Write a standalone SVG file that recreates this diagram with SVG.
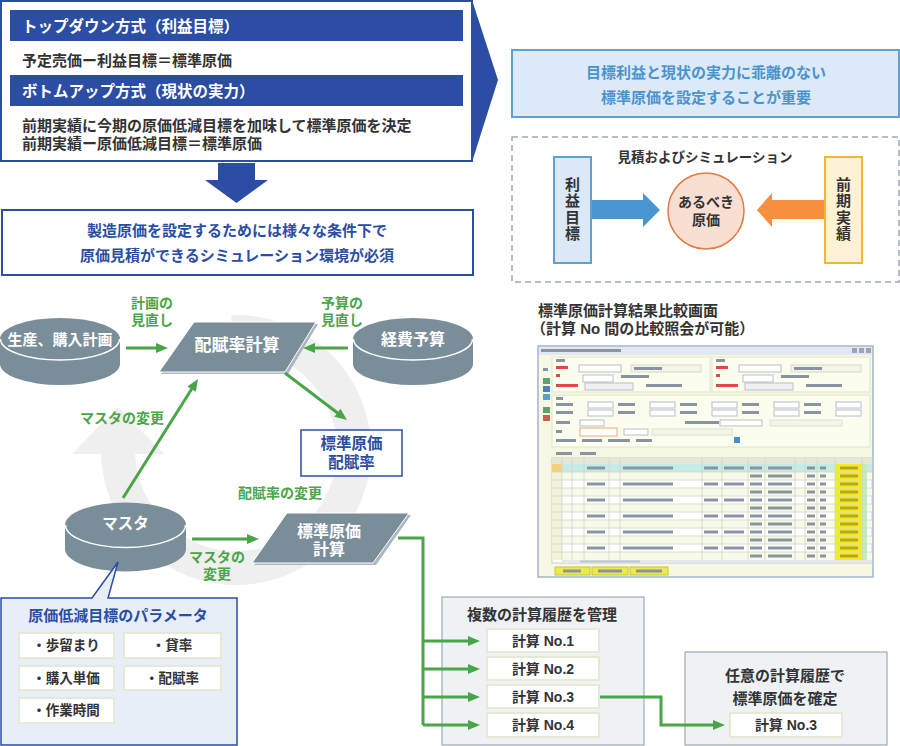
<svg xmlns="http://www.w3.org/2000/svg" width="900" height="746" viewBox="0 0 900 746">
<style>
.t{font-family:"Liberation Sans","Noto Sans CJK JP",sans-serif;font-weight:bold;dominant-baseline:central}
.dk{fill:#333}
.wh{fill:#fff}
.bl{fill:#2b4da3}
.gn{fill:#4aa548}
.mid{text-anchor:middle}
.cyl{fill:#7a8e9a}
.edge{fill:none;stroke:#fff;stroke-width:1.5}
.para{fill:#7a8e9a;stroke:#fff;stroke-width:1}
.parash{fill:#aab7be}
.gl{fill:none;stroke:#4aa548;stroke-width:3}
.ah{fill:#4aa548;stroke:none}
.item{fill:#fff;stroke:#e3ecd3;stroke-width:2}
.sx{fill:#8a93a0}
</style>
<defs>
<filter id="soft" x="-5%" y="-5%" width="110%" height="110%"><feGaussianBlur stdDeviation="0.6"/></filter>
</defs>

<!-- big grey cycle arrow -->
<g id="cycle">
<path d="M231.9,332.1 A118,118 0 1 1 118,452" fill="none" stroke="#efefef" stroke-width="34"/>
<polygon points="72,454 164,454 118,407" fill="#efefef"/>
</g>

<!-- top-left approaches box -->
<g id="approaches">
<rect x="1" y="1" width="471" height="160" fill="#fff" stroke="#2b4da3" stroke-width="2"/>
<polygon points="472,0 498,80 472,162" fill="#2b4da3"/>
<rect x="10" y="10" width="453" height="31" fill="#2b4da3"/>
<text class="t wh" x="22" y="26" font-size="15.5">トップダウン方式（利益目標）</text>
<text class="t dk" x="22" y="60" font-size="15">予定売価ー利益目標＝標準原価</text>
<rect x="10" y="75" width="453" height="31" fill="#2b4da3"/>
<text class="t wh" x="22" y="91" font-size="15.5">ボトムアップ方式（現状の実力）</text>
<text class="t dk" x="22" y="125" font-size="15">前期実績に今期の原価低減目標を加味して標準原価を決定</text>
<text class="t dk" x="22" y="143" font-size="15">前期実績ー原価低減目標＝標準原価</text>
</g>

<g id="downarrow">
<polygon points="218,163 255,163 255,180 268,180 236.5,203 205,180 218,180" fill="#2b4da3"/>
</g>

<g id="simenv">
<rect x="2" y="210" width="471" height="65" fill="#fff" stroke="#2b4da3" stroke-width="2"/>
<text class="t bl mid" x="237" y="230" font-size="15">製造原価を設定するためには様々な条件下で</text>
<text class="t bl mid" x="237" y="255" font-size="15">原価見積ができるシミュレーション環境が必須</text>
</g>

<g id="goal">
<rect x="512" y="50" width="387" height="67" fill="#dce9f6" stroke="#5ba0d7" stroke-width="2"/>
<text class="t mid" x="706" y="72" font-size="15" fill="#4b93cc">目標利益と現状の実力に乖離のない</text>
<text class="t mid" x="706" y="97" font-size="15" fill="#4b93cc">標準原価を設定することが重要</text>
</g>

<g id="simulation">
<rect x="512" y="137" width="387" height="145" fill="#fff" stroke="#9eabb3" stroke-width="1.5" stroke-dasharray="6,4"/>
<text class="t dk mid" x="705" y="157" font-size="13.5">見積およびシミュレーション</text>
<rect x="554" y="157" width="37" height="106" fill="#dbe9f6" stroke="#5ba0d7" stroke-width="2"/>
<text class="t dk mid" x="572.5" y="184" font-size="15">利</text>
<text class="t dk mid" x="572.5" y="200.5" font-size="15">益</text>
<text class="t dk mid" x="572.5" y="217" font-size="15">目</text>
<text class="t dk mid" x="572.5" y="233.5" font-size="15">標</text>
<rect x="825" y="157" width="37" height="106" fill="#fdf1d6" stroke="#f2b830" stroke-width="2"/>
<text class="t dk mid" x="843.5" y="184" font-size="15">前</text>
<text class="t dk mid" x="843.5" y="200.5" font-size="15">期</text>
<text class="t dk mid" x="843.5" y="217" font-size="15">実</text>
<text class="t dk mid" x="843.5" y="233.5" font-size="15">績</text>
<polygon points="592,200 643,200 643,193 660,210 643,227 643,219 592,219" fill="#4a95d0"/>
<polygon points="824,200 772,200 772,193 757,210 772,227 772,219 824,219" fill="#f78f3e"/>
<circle cx="706" cy="211" r="38" fill="#f8dfd2" stroke="#e07b45" stroke-width="1.5"/>
<text class="t dk mid" x="706" y="202" font-size="14">あるべき</text>
<text class="t dk mid" x="706" y="220" font-size="14">原価</text>
</g>

<g id="compare-title">
<text class="t dk" x="538" y="310" font-size="15">標準原価計算結果比較画面</text>
<text class="t dk" x="531" y="328" font-size="15">（計算 No 間の比較照会が可能）</text>
</g>

<g id="screenshot" filter="url(#soft)">
<rect x="538" y="346" width="335" height="231" fill="#f6f8e3" stroke="#a2b4d6" stroke-width="1.5"/>
<rect x="539" y="347" width="333" height="8" fill="#e2e8f1"/>
<rect x="541" y="349" width="80" height="3" class="sx"/>
<rect x="852" y="348" width="5" height="5" fill="#9aa6b6"/>
<rect x="859" y="348" width="5" height="5" fill="#9aa6b6"/>
<rect x="866" y="348" width="5" height="5" fill="#9aa6b6"/>
<rect x="543" y="368" width="5" height="3" class="sx"/>
<rect x="543" y="378" width="7" height="6" fill="#5aa070"/>
<rect x="543" y="386" width="7" height="6" fill="#4a80c0"/>
<rect x="543" y="394" width="7" height="6" fill="#5aa0d0"/>
<rect x="543" y="407" width="7" height="6" fill="#5aa070"/>
<rect x="543" y="415" width="7" height="6" fill="#c06050"/>
<rect x="552" y="357" width="158" height="35" fill="#fbfdee" stroke="#dfe5c9"/>
<rect x="712" y="357" width="158" height="35" fill="#fbfdee" stroke="#dfe5c9"/>
<g id="panelA">
<rect x="556" y="359" width="9" height="3" class="sx"/>
<rect x="556" y="366" width="12" height="3" fill="#e04848"/>
<rect x="556" y="374" width="4" height="3" fill="#e04848"/>
<rect x="556" y="384" width="22" height="3" fill="#e04848"/>
<rect x="579" y="365" width="42" height="7" fill="#fff" stroke="#b8bec8"/>
<rect x="631" y="365" width="70" height="7" fill="#f3f5ea" stroke="#d8dccb"/>
<rect x="634" y="367" width="28" height="3" class="sx"/>
<rect x="583" y="375" width="30" height="7" fill="#fff" stroke="#b8bec8"/>
<rect x="621" y="375" width="28" height="3" class="sx"/>
<rect x="585" y="383" width="48" height="7" fill="#eef0f4" stroke="#b8bec8"/>
<rect x="646" y="384" width="36" height="3" class="sx"/>
</g>
<use href="#panelA" transform="translate(160,0)"/>
<rect x="552" y="395" width="318" height="52" fill="#fbfdee" stroke="#dfe5c9"/>
<rect x="556" y="397" width="7" height="3" class="sx"/>
<g id="filt-row">
<rect x="556" y="403" width="17" height="3" class="sx"/>
<rect x="588" y="402" width="25" height="6" fill="#fff" stroke="#b8bec8"/>
<rect x="618" y="403" width="17" height="3" class="sx"/>
<rect x="650" y="402" width="25" height="6" fill="#fff" stroke="#b8bec8"/>
<rect x="680" y="403" width="17" height="3" class="sx"/>
<rect x="712" y="402" width="25" height="6" fill="#fff" stroke="#b8bec8"/>
<rect x="742" y="403" width="17" height="3" class="sx"/>
<rect x="774" y="402" width="25" height="6" fill="#fff" stroke="#b8bec8"/>
<rect x="804" y="403" width="17" height="3" class="sx"/>
<rect x="836" y="402" width="25" height="6" fill="#fff" stroke="#b8bec8"/>
</g>
<use href="#filt-row" transform="translate(0,8)"/>
<rect x="556" y="421" width="14" height="3" class="sx"/>
<rect x="580" y="420" width="24" height="6" fill="#fff" stroke="#b8bec8"/>
<rect x="685" y="421" width="34" height="3" class="sx"/>
<rect x="720" y="420" width="42" height="6" fill="#fff" stroke="#b8bec8"/>
<rect x="770" y="420" width="72" height="6" fill="#f3f5ea" stroke="#dde1cf"/>
<rect x="556" y="430" width="6" height="3" class="sx"/>
<rect x="580" y="428" width="37" height="8" fill="#fff" stroke="#f0a870"/>
<rect x="624" y="429" width="24" height="6" fill="#fff" stroke="#b8bec8"/>
<rect x="652" y="429" width="80" height="6" fill="#f3f5ea" stroke="#dde1cf"/>
<rect x="556" y="439" width="20" height="3" class="sx"/>
<rect x="582" y="439" width="20" height="3" class="sx"/>
<rect x="608" y="439" width="22" height="3" class="sx"/>
<rect x="636" y="439" width="16" height="3" class="sx"/>
<rect x="734" y="437" width="6" height="6" fill="#4a90c8"/>
<rect x="556" y="452" width="16" height="3" class="sx"/>
<rect x="580" y="452" width="16" height="3" class="sx"/>
<rect x="552" y="458" width="320" height="105" fill="#fff" stroke="#c8ceb8"/>
<rect x="552" y="458" width="320" height="6" fill="#e4e8d8"/>
<rect x="552" y="472" width="320" height="8" fill="#f8fae8"/>
<rect x="552" y="488" width="320" height="8" fill="#f8fae8"/>
<rect x="552" y="504" width="320" height="8" fill="#f8fae8"/>
<rect x="552" y="520" width="320" height="8" fill="#f8fae8"/>
<rect x="552" y="536" width="320" height="8" fill="#f8fae8"/>
<rect x="552" y="552" width="320" height="8" fill="#f8fae8"/>
<rect x="562" y="464" width="310" height="8" fill="#c3ebe7"/>
<rect x="552" y="464" width="10" height="96" fill="#f1f2dc"/>
<rect x="552" y="464" width="10" height="8" fill="#f5cf7a"/>
<rect x="835" y="464" width="27" height="96" fill="#eeee22"/>
<rect x="862" y="464" width="5" height="96" fill="#c4ebbc"/>
<g stroke="#d0d6c4" stroke-width="0.8">
<line x1="562" y1="458" x2="562" y2="560"/>
<line x1="572" y1="458" x2="572" y2="560"/>
<line x1="584" y1="458" x2="584" y2="560"/>
<line x1="609" y1="458" x2="609" y2="560"/>
<line x1="620" y1="458" x2="620" y2="560"/>
<line x1="702" y1="458" x2="702" y2="560"/>
<line x1="722" y1="458" x2="722" y2="560"/>
<line x1="748" y1="458" x2="748" y2="560"/>
<line x1="765" y1="458" x2="765" y2="560"/>
<line x1="795" y1="458" x2="795" y2="560"/>
<line x1="805" y1="458" x2="805" y2="560"/>
<line x1="817" y1="458" x2="817" y2="560"/>
<line x1="835" y1="458" x2="835" y2="560"/>
<line x1="862" y1="458" x2="862" y2="560"/>
<line x1="552" y1="472" x2="872" y2="472"/>
<line x1="552" y1="480" x2="872" y2="480"/>
<line x1="552" y1="488" x2="872" y2="488"/>
<line x1="552" y1="496" x2="872" y2="496"/>
<line x1="552" y1="504" x2="872" y2="504"/>
<line x1="552" y1="512" x2="872" y2="512"/>
<line x1="552" y1="520" x2="872" y2="520"/>
<line x1="552" y1="528" x2="872" y2="528"/>
<line x1="552" y1="536" x2="872" y2="536"/>
<line x1="552" y1="544" x2="872" y2="544"/>
<line x1="552" y1="552" x2="872" y2="552"/>
</g>
<g id="rowA">
<rect x="587" y="466.5" width="18" height="3" class="sx"/>
<rect x="623" y="466.5" width="50" height="3" class="sx"/>
<rect x="704" y="466.5" width="14" height="3" class="sx"/>
<rect x="724" y="466.5" width="20" height="3" class="sx"/>
<rect x="750" y="466.5" width="12" height="3" class="sx"/>
<rect x="768" y="466.5" width="24" height="3" class="sx"/>
<rect x="807" y="466.5" width="8" height="3" class="sx"/>
<rect x="820" y="466.5" width="6" height="3" class="sx"/>
<rect x="840" y="466.5" width="18" height="3" fill="#c0a020"/>
</g>
<g id="rowB">
<rect x="750" y="474.5" width="12" height="3" class="sx"/>
<rect x="768" y="474.5" width="24" height="3" class="sx"/>
<rect x="807" y="474.5" width="8" height="3" class="sx"/>
<rect x="820" y="474.5" width="6" height="3" class="sx"/>
<rect x="840" y="474.5" width="18" height="3" fill="#c0a020"/>
</g>
<use href="#rowA" transform="translate(0,16)"/>
<use href="#rowB" transform="translate(0,16)"/>
<use href="#rowA" transform="translate(0,32)"/>
<use href="#rowB" transform="translate(0,32)"/>
<use href="#rowA" transform="translate(0,48)"/>
<use href="#rowB" transform="translate(0,48)"/>
<use href="#rowA" transform="translate(0,64)"/>
<use href="#rowB" transform="translate(0,64)"/>
<use href="#rowA" transform="translate(0,80)"/>
<use href="#rowB" transform="translate(0,80)"/>
<rect x="562" y="560" width="310" height="3" fill="#e4e8ee"/>
<rect x="580" y="560.5" width="60" height="2" fill="#b8c4d4"/>
<rect x="555" y="567" width="35" height="8" fill="#eceb4a" stroke="#c8c43a"/>
<rect x="592" y="567" width="36" height="8" fill="#eceb4a" stroke="#c8c43a"/>
<rect x="630" y="567" width="38" height="8" fill="#eceb4a" stroke="#c8c43a"/>
<rect x="563" y="569.5" width="18" height="3" class="sx"/>
<rect x="598" y="569.5" width="24" height="3" class="sx"/>
<rect x="636" y="569.5" width="26" height="3" class="sx"/>
</g>

<g id="plan">
<path class="cyl" d="M0,339 V364 A60,21 0 0 0 120,364 V339 Z"/>
<ellipse class="cyl" cx="60" cy="339" rx="60" ry="21"/>
<path class="edge" d="M0.5,339 A59.5,21 0 0 0 119.5,339"/>
<text class="t wh mid" x="60" y="339" font-size="15">生産、購入計画</text>
</g>

<g id="budget">
<path class="cyl" d="M353,339 V364 A60,21 0 0 0 473,364 V339 Z"/>
<ellipse class="cyl" cx="413" cy="339" rx="60" ry="21"/>
<path class="edge" d="M353.5,339 A59.5,21 0 0 0 472.5,339"/>
<text class="t wh mid" x="413" y="339" font-size="16">経費予算</text>
</g>

<g id="ratecalc">
<polygon class="parash" points="196,324 318,324 288,374 161,374"/>
<polygon class="para" points="194,322 316,322 285,372 159,372"/>
<text class="t wh mid" x="237" y="345" font-size="17">配賦率計算</text>
</g>

<g id="stdrate">
<rect x="301" y="430" width="101" height="46" fill="#fff" stroke="#2b4da3" stroke-width="1.5"/>
<text class="t bl mid" x="351.5" y="443" font-size="15.5">標準原価</text>
<text class="t bl mid" x="351.5" y="462" font-size="15.5">配賦率</text>
</g>

<g id="master">
<path class="cyl" d="M65,525 V549 A60.5,22.5 0 0 0 186,549 V525 Z"/>
<ellipse class="cyl" cx="125.5" cy="525" rx="60.5" ry="22.5"/>
<path class="edge" d="M65.5,525 A60,22.5 0 0 0 185.5,525"/>
<text class="t wh mid" x="125.5" y="523" font-size="15.5">マスタ</text>
</g>

<g id="stdcalc">
<polygon class="parash" points="289,515 411,515 376,565 254,565"/>
<polygon class="para" points="287,513 409,513 373,563 252,563"/>
<text class="t wh mid" x="329" y="531" font-size="16">標準原価</text>
<text class="t wh mid" x="329" y="549" font-size="16">計算</text>
</g>

<g id="params">
<path d="M1,598 H92 L118,562 L108,598 H237 V745 H1 Z" fill="#e8eef7" stroke="#2b4da3" stroke-width="1.5"/>
<text class="t bl mid" x="118" y="615" font-size="15">原価低減目標のパラメータ</text>
<rect class="item" x="19" y="633" width="95" height="25"/>
<rect class="item" x="124" y="633" width="97" height="25"/>
<rect class="item" x="19" y="666" width="95" height="24"/>
<rect class="item" x="124" y="666" width="97" height="24"/>
<rect class="item" x="19" y="698" width="95" height="25"/>
<text class="t dk mid" x="66" y="645.5" font-size="13.5">・歩留まり</text>
<text class="t dk mid" x="172" y="645.5" font-size="13.5">・貸率</text>
<text class="t dk mid" x="66" y="678" font-size="13.5">・購入単価</text>
<text class="t dk mid" x="172" y="678" font-size="13.5">・配賦率</text>
<text class="t dk mid" x="66" y="710.5" font-size="13.5">・作業時間</text>
</g>

<g id="history">
<rect x="442" y="597" width="202" height="148" fill="#eef2f4" stroke="#8d9ca6" stroke-width="1"/>
<text class="t dk mid" x="542" y="614" font-size="15">複数の計算履歴を管理</text>
<rect class="item" x="487" y="629" width="112" height="23"/>
<rect class="item" x="487" y="657" width="112" height="23"/>
<rect class="item" x="487" y="685" width="112" height="23"/>
<rect class="item" x="487" y="713" width="112" height="24"/>
<text class="t dk mid" x="543" y="641" font-size="14">計算 No.1</text>
<text class="t dk mid" x="543" y="669" font-size="14">計算 No.2</text>
<text class="t dk mid" x="543" y="697" font-size="14">計算 No.3</text>
<text class="t dk mid" x="543" y="725" font-size="14">計算 No.4</text>
</g>

<g id="confirm">
<rect x="685" y="652" width="202" height="93" fill="#eef2f4" stroke="#8d9ca6" stroke-width="1"/>
<text class="t dk mid" x="785" y="675" font-size="15">任意の計算履歴で</text>
<text class="t dk mid" x="785" y="698" font-size="15">標準原価を確定</text>
<rect class="item" x="730" y="713" width="112" height="24"/>
<text class="t dk mid" x="786" y="725" font-size="14">計算 No.3</text>
</g>

<!-- connectors (drawn on top) -->
<g id="connectors">
<line class="gl" x1="126" y1="348" x2="160" y2="348"/>
<polygon class="ah" points="156,343 168,348 156,353"/>
<line class="gl" x1="348" y1="348" x2="311" y2="348"/>
<polygon class="ah" points="315,343 303,348 315,353"/>
<line class="gl" x1="285" y1="373" x2="340.6" y2="415.2"/>
<polygon class="ah" points="334.4,416.7 347,420 340.5,408.8"/>
<line class="gl" x1="123" y1="498" x2="193.7" y2="385.8"/>
<polygon class="ah" points="195.8,391.8 198,379 187.4,386.5"/>
<line class="gl" x1="192" y1="539" x2="251" y2="539"/>
<polygon class="ah" points="247,534 259,539 247,544"/>
<polyline class="gl" points="398,538 423,538 423,725"/>
<line class="gl" x1="423" y1="641" x2="472" y2="641"/>
<polygon class="ah" points="468,636 480,641 468,646"/>
<line class="gl" x1="423" y1="669" x2="472" y2="669"/>
<polygon class="ah" points="468,664 480,669 468,674"/>
<line class="gl" x1="423" y1="697" x2="472" y2="697"/>
<polygon class="ah" points="468,692 480,697 468,702"/>
<line class="gl" x1="423" y1="725" x2="472" y2="725"/>
<polygon class="ah" points="468,720 480,725 468,730"/>
<polyline class="gl" points="600,697 661,697 661,725 717,725"/>
<polygon class="ah" points="713,720 725,725 713,730"/>
<text class="t gn mid" x="152" y="303" font-size="14">計画の</text>
<text class="t gn mid" x="152" y="320" font-size="14">見直し</text>
<text class="t gn mid" x="342" y="303" font-size="14">予算の</text>
<text class="t gn mid" x="342" y="320" font-size="14">見直し</text>
<text class="t gn mid" x="122" y="418" font-size="14">マスタの変更</text>
<text class="t gn mid" x="280" y="493" font-size="14">配賦率の変更</text>
<text class="t gn mid" x="217" y="557" font-size="14">マスタの</text>
<text class="t gn mid" x="217" y="574" font-size="14">変更</text>
</g>
</svg>
